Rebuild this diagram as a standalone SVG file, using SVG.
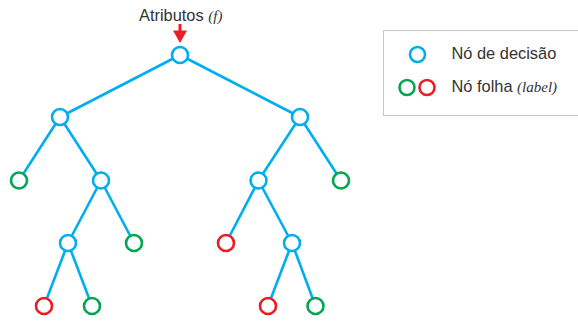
<svg xmlns="http://www.w3.org/2000/svg" width="578" height="322" viewBox="0 0 578 322">
  <style>
    .edge { stroke: #00aeef; stroke-width: 2.6; fill: none; }
    .node { fill: #fff; stroke-width: 2.6; }
    .dec { stroke: #00aeef; }
    .leafg { stroke: #00a651; }
    .leafr { stroke: #ed1c24; }
    .lbl { font-family: "Liberation Sans", Arial, sans-serif; font-size: 16.4px; fill: #333; }
    .it { font-family: "Liberation Serif", "Times New Roman", serif; font-style: italic; font-size: 15px; }
  </style>

  <!-- connectors -->
  <g id="edges">
    <line class="edge" x1="180" y1="55" x2="60" y2="117"/>
    <line class="edge" x1="180" y1="55" x2="300" y2="117"/>
    <line class="edge" x1="60" y1="117" x2="19" y2="180.5"/>
    <line class="edge" x1="60" y1="117" x2="101" y2="180.5"/>
    <line class="edge" x1="101" y1="180.5" x2="68" y2="243"/>
    <line class="edge" x1="101" y1="180.5" x2="134" y2="243"/>
    <line class="edge" x1="68" y1="243" x2="44" y2="306"/>
    <line class="edge" x1="68" y1="243" x2="92" y2="306"/>
    <line class="edge" x1="300" y1="117" x2="258.5" y2="180.5"/>
    <line class="edge" x1="300" y1="117" x2="341" y2="180.5"/>
    <line class="edge" x1="258.5" y1="180.5" x2="226" y2="243"/>
    <line class="edge" x1="258.5" y1="180.5" x2="292" y2="243"/>
    <line class="edge" x1="292" y1="243" x2="268" y2="306"/>
    <line class="edge" x1="292" y1="243" x2="315.5" y2="306"/>
  </g>

  <!-- root label and input arrow -->
  <g id="root-label">
    <text class="lbl" x="139" y="20.5">Atributos <tspan class="it">(f)</tspan></text>
    <path d="M178.5 24 H181.5 V30.5 H187 L180 43 L173 30.5 H178.5 Z" fill="#ed1c24"/>
  </g>

  <!-- decision nodes -->
  <g id="n-root"><circle class="node dec" cx="180" cy="55" r="8"/></g>
  <g id="n-l"><circle class="node dec" cx="60" cy="117" r="8"/></g>
  <g id="n-r"><circle class="node dec" cx="300" cy="117" r="8"/></g>
  <g id="n-lr"><circle class="node dec" cx="101" cy="180.5" r="8"/></g>
  <g id="n-rl"><circle class="node dec" cx="258.5" cy="180.5" r="8"/></g>
  <g id="n-lrl"><circle class="node dec" cx="68" cy="243" r="8"/></g>
  <g id="n-rlr"><circle class="node dec" cx="292" cy="243" r="8"/></g>

  <!-- leaf nodes -->
  <g id="leaf-ll"><circle class="node leafg" cx="19" cy="180.5" r="8"/></g>
  <g id="leaf-rr"><circle class="node leafg" cx="341" cy="180.5" r="8"/></g>
  <g id="leaf-lrr"><circle class="node leafg" cx="134" cy="243" r="8"/></g>
  <g id="leaf-rll"><circle class="node leafr" cx="226" cy="243" r="8"/></g>
  <g id="leaf-lrll"><circle class="node leafr" cx="44" cy="306" r="8"/></g>
  <g id="leaf-lrlr"><circle class="node leafg" cx="92" cy="306" r="8"/></g>
  <g id="leaf-rlrl"><circle class="node leafr" cx="268" cy="306" r="8"/></g>
  <g id="leaf-rlrr"><circle class="node leafg" cx="315.5" cy="306" r="8"/></g>

  <!-- legend -->
  <g id="legend">
    <rect x="383.5" y="30.5" width="200" height="85" fill="#fff" stroke="#c8c8c8" stroke-width="1"/>
    <circle class="node dec" cx="417.5" cy="54.5" r="7.5"/>
    <text class="lbl" x="451.5" y="59">Nó de decisão</text>
    <circle class="node leafg" cx="407" cy="87.5" r="7.5"/>
    <circle class="node leafr" cx="427" cy="87.5" r="7.5"/>
    <text class="lbl" x="451.5" y="91.5">Nó folha <tspan class="it">(label)</tspan></text>
  </g>
</svg>
